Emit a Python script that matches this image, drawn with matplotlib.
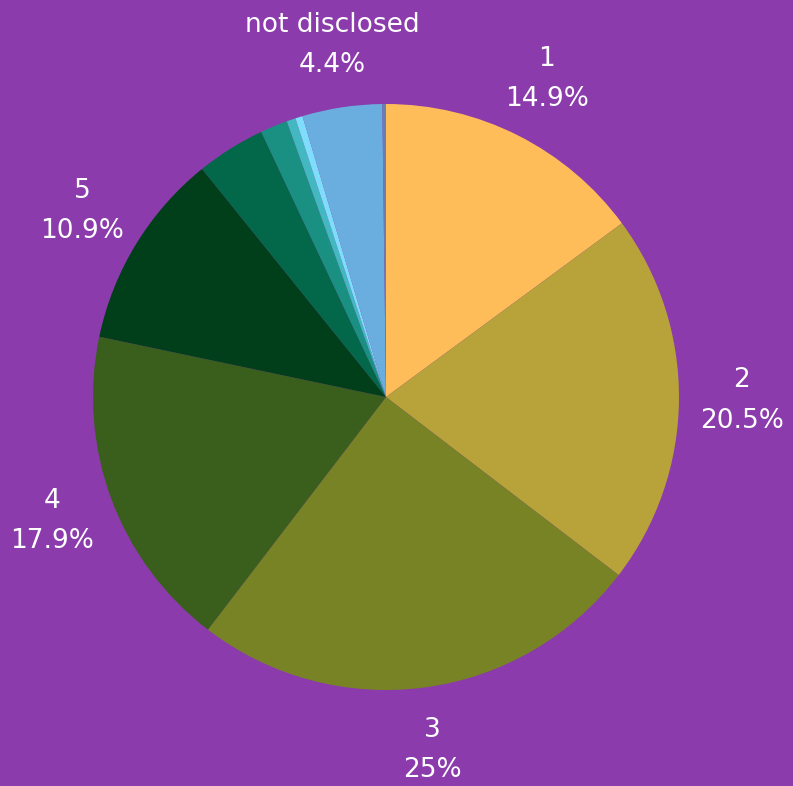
import matplotlib
matplotlib.use('Agg')
import matplotlib.pyplot as plt
import numpy as np

# Slice data, clockwise from 12 o'clock
categories = ['1', '2', '3', '4', '5', '6', '7', '8', '9', 'not disclosed', 'other']
shares = [14.9, 20.5, 25, 17.9, 10.9, 3.8, 1.5, 0.5, 0.4, 4.4, 0.2]
show_label = [True, True, True, True, True, False, False, False, False, True, False]
colors = ['#FFBD59', '#B8A23A', '#778325', '#3A5F1D', '#003F19', '#03684A',
          '#1A9082', '#43B8C0', '#7FDDFC', '#6AAEE0', '#6A7FB0']

bg = '#8B3BAB'
plt.rcParams['font.family'] = ['DejaVu Sans']

fig = plt.figure(figsize=(7.93, 7.86), dpi=100, facecolor=bg)
cx, cy, r = 386, 397, 293
W, H = 793, 786
ax = fig.add_axes([(cx - r) / W, (H - cy - r) / H, 2 * r / W, 2 * r / H])
ax.set_facecolor(bg)

def fmt(v):
    return f'{v:g}%'

labels = [f'{c}\n{fmt(v)}' if s else '' for c, v, s in zip(categories, shares, show_label)]

wedges, texts = ax.pie(shares, colors=colors, startangle=90, counterclock=False,
                       labels=labels, labeldistance=1.215, radius=1,
                       wedgeprops=dict(linewidth=0),
                       textprops=dict(color='white', fontsize=19, linespacing=1.72))
for t in texts:
    t.set_ha('center')
    t.set_va('center')

ax.set_xlim(-1, 1)
ax.set_ylim(-1, 1)
ax.set_aspect('equal')
ax.axis('off')

fig.savefig('out.png', dpi=100, facecolor=bg)
